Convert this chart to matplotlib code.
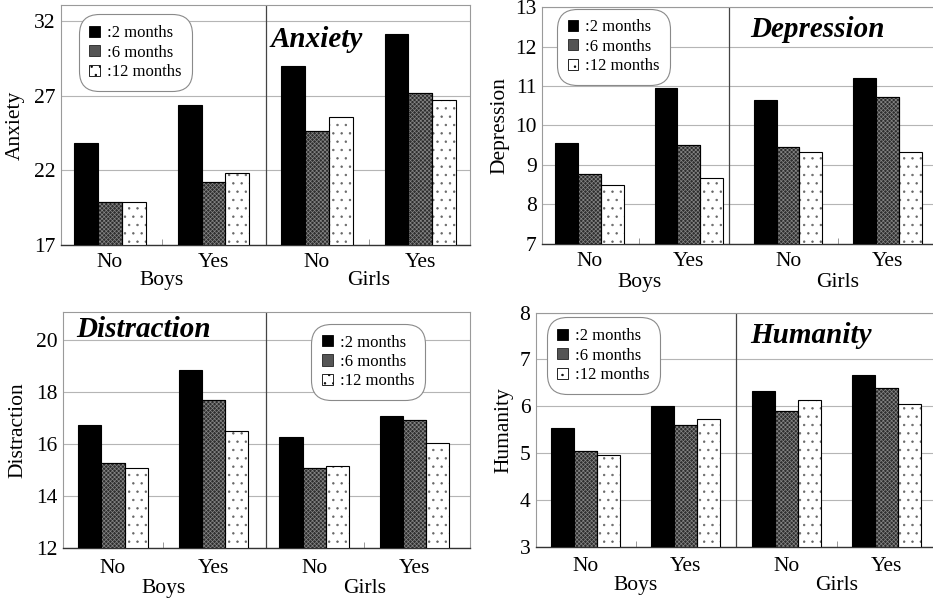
import matplotlib
matplotlib.use("Agg")
import matplotlib.pyplot as plt
import matplotlib.transforms as mtransforms
from matplotlib.patches import Patch
import numpy as np

plt.rcParams['font.family'] = ['Liberation Serif', 'DejaVu Serif']
plt.rcParams['hatch.linewidth'] = 0.5

groups = ["No", "Yes", "No", "Yes"]
sexes = ["Boys", "Girls"]
periods = [":2 months", ":6 months", ":12 months"]

# values per period, order: boys-no, boys-yes, girls-no, girls-yes
anxiety_2 = [23.8, 26.4, 29.0, 31.1]
anxiety_6 = [19.9, 21.2, 24.6, 27.2]
anxiety_12 = [19.9, 21.8, 25.6, 26.7]

depression_2 = [9.56, 10.94, 10.64, 11.21]
depression_6 = [8.78, 9.51, 9.45, 10.71]
depression_12 = [8.49, 8.67, 9.34, 9.33]

distraction_2 = [16.73, 18.82, 16.26, 17.08]
distraction_6 = [15.25, 17.68, 15.09, 16.93]
distraction_12 = [15.09, 16.49, 15.15, 16.04]

humanity_2 = [5.53, 6.0, 6.32, 6.67]
humanity_6 = [5.04, 5.59, 5.89, 6.39]
humanity_12 = [4.95, 5.72, 6.14, 6.04]

fig = plt.figure(figsize=(9.33, 5.99), dpi=100)

panels = [
    # name, values, ylim, yticks, rect, xlim, divider, legend anchor, title pos, ylabel x, x pad, sex label y
    ("Anxiety", (anxiety_2, anxiety_6, anxiety_12), (17, 33.07), [17, 22, 27, 32],
     [0.0654, 0.591, 0.4384, 0.4007], (-0.474, 3.48), 1.51, (0.049, 0.95), (0.513, 0.825), -0.113, 5.5, -0.167),
    ("Depression", (depression_2, depression_6, depression_12), (7, 13), [7, 8, 9, 10, 11, 12, 13],
     [0.581, 0.5927, 0.419, 0.3956], (-0.478, 3.46), 1.405, (0.044, 0.983), (0.532, 0.873), -0.107, 6.0, -0.181),
    ("Distraction", (distraction_2, distraction_6, distraction_12), (12, 21.06), [12, 14, 16, 18, 20],
     [0.0675, 0.0851, 0.4363, 0.394], (-0.498, 3.55), 1.52, (0.616, 0.94), (0.032, 0.895), -0.111, 8.0, -0.19),
    ("Humanity", (humanity_2, humanity_6, humanity_12), (3, 8), [3, 4, 5, 6, 7, 8],
     [0.5745, 0.0873, 0.4255, 0.3907], (-0.49, 3.46), 1.50, (0.033, 0.969), (0.539, 0.872), -0.081, 7.5, -0.184),
]

width = 0.23
x = np.arange(len(groups))

for (name, vals, ylim, yticks, rect, xlim, divider, leg_xy, title_xy, ylab_x, xpad, sex_y) in panels:
    ax = fig.add_axes(rect)
    v2, v6, v12 = vals
    base = ylim[0]
    ax.bar(x - width, np.array(v2) - base, width, bottom=base, color="black",
           edgecolor="black", linewidth=0.8, zorder=3)
    ax.bar(x, np.array(v6) - base, width, bottom=base, color="#2e2e2e",
           edgecolor="black", linewidth=0.8, zorder=3)
    ax.bar(x, np.array(v6) - base, width, bottom=base, color="none",
           edgecolor="#858585", hatch="xxxxxxxx", linewidth=0, zorder=4)
    ax.bar(x, np.array(v6) - base, width, bottom=base, color="none",
           edgecolor="black", linewidth=0.8, zorder=5)
    ax.bar(x + width, np.array(v12) - base, width, bottom=base, color="white",
           edgecolor="#666666", hatch="..", linewidth=0, zorder=3)
    ax.bar(x + width, np.array(v12) - base, width, bottom=base, color="none",
           edgecolor="black", linewidth=0.8, zorder=4)

    ax.set_xlim(*xlim)
    ax.set_ylim(*ylim)
    ax.set_yticks(yticks)
    ax.set_yticklabels([str(t) for t in yticks], fontsize=15.5)
    ax.set_xticks(x)
    ax.set_xticklabels(groups, fontsize=15.5)
    ax.tick_params(axis="both", length=0)
    ax.tick_params(axis="x", pad=xpad)
    ax.tick_params(axis="y", pad=4)
    ax.set_xticks([0.5, 2.5], minor=True)
    ax.tick_params(axis="x", which="minor", direction="in", length=4, color="#888888")
    ax.grid(axis="y", color="#b5b5b5", linewidth=0.8, zorder=0)
    ax.axvline(divider, color="#444444", linewidth=0.9, zorder=2)

    for side in ["top", "right", "left"]:
        ax.spines[side].set_color("#9a9a9a")
        ax.spines[side].set_linewidth(0.8)
    ax.spines["top"].set_linestyle((0, (1, 1)))
    ax.spines["bottom"].set_color("#333333")
    ax.spines["bottom"].set_linewidth(1.0)
    if rect[0] > 0.5:
        ax.spines["right"].set_visible(False)

    ax.set_ylabel(name, fontsize=15.5, va="center")
    ax.yaxis.set_label_coords(ylab_x, 0.5)

    trans = mtransforms.blended_transform_factory(ax.transData, ax.transAxes)
    for pos, sex in zip([0.5, 2.5], sexes):
        ax.text(pos, sex_y, sex, transform=trans, ha="center", va="baseline", fontsize=15.5)

    ax.text(title_xy[0], title_xy[1], name, transform=ax.transAxes, ha="left", va="baseline",
            fontsize=21, fontweight="bold", fontstyle="italic", zorder=6)

    handles = [
        Patch(facecolor="black", edgecolor="black", linewidth=0.6),
        Patch(facecolor="#555555", edgecolor="#222222", linewidth=0.6),
        Patch(facecolor="white", edgecolor="black", hatch="..", linewidth=0.6),
    ]
    leg = ax.legend(handles, periods, loc="upper left", bbox_to_anchor=leg_xy, borderaxespad=0,
                    fontsize=12, handlelength=0.65, handleheight=0.65, handletextpad=0.4,
                    labelspacing=0.2, borderpad=0.5, fancybox=True, framealpha=1,
                    edgecolor="#8a8a8a")
    leg.get_frame().set_linewidth(0.8)
    leg.get_frame().set_boxstyle("round", pad=0.15, rounding_size=1.2)
    leg.set_zorder(7)

fig.savefig("out.png", dpi=100)
